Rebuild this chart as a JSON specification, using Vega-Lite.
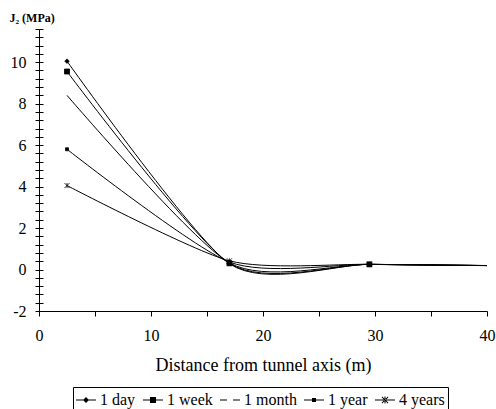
{
  "$schema": "https://vega.github.io/schema/vega-lite/v6.json",
  "width": 448,
  "height": 282,
  "autosize": {"type": "none"},
  "padding": {"left": 39, "top": 29, "right": 9, "bottom": 98},
  "background": "white",
  "config": {
    "font": "Liberation Serif",
    "view": {"stroke": null},
    "axis": {
      "domainColor": "black",
      "tickColor": "black",
      "labelColor": "black",
      "titleColor": "black",
      "grid": false,
      "labelFont": "Liberation Serif",
      "titleFont": "Liberation Serif"
    }
  },
  "data": {
    "values": [
      {"series": "1 day", "x": 2.5, "y": 10.05},
      {"series": "1 day", "x": 17, "y": 0.28},
      {"series": "1 day", "x": 29.5, "y": 0.25},
      {"series": "1 day", "x": 42, "y": 0.18},
      {"series": "1 week", "x": 2.5, "y": 9.55},
      {"series": "1 week", "x": 17, "y": 0.3},
      {"series": "1 week", "x": 29.5, "y": 0.25},
      {"series": "1 week", "x": 42, "y": 0.18},
      {"series": "1 month", "x": 2.5, "y": 8.4},
      {"series": "1 month", "x": 17, "y": 0.32},
      {"series": "1 month", "x": 29.5, "y": 0.25},
      {"series": "1 month", "x": 42, "y": 0.18},
      {"series": "1 year", "x": 2.5, "y": 5.8},
      {"series": "1 year", "x": 17, "y": 0.36},
      {"series": "1 year", "x": 29.5, "y": 0.25},
      {"series": "1 year", "x": 42, "y": 0.18},
      {"series": "4 years", "x": 2.5, "y": 4.05},
      {"series": "4 years", "x": 17, "y": 0.42},
      {"series": "4 years", "x": 29.5, "y": 0.25},
      {"series": "4 years", "x": 42, "y": 0.18}
    ]
  },
  "encoding": {
    "x": {
      "field": "x",
      "type": "quantitative",
      "scale": {"domain": [0, 40], "nice": false, "zero": false},
      "axis": {
        "title": "Distance from tunnel axis (m)",
        "values": [0, 5, 10, 15, 20, 25, 30, 35, 40],
        "labelExpr": "datum.value % 10 == 0 ? datum.label : ''",
        "tickSize": 5,
        "labelPadding": 11,
        "labelFontSize": 16,
        "labelFontWeight": "normal",
        "titleFontSize": 18,
        "titleFontWeight": "normal",
        "titlePadding": 13,
        "labelFlush": false,
        "labelOverlap": false
      }
    }
  },
  "layer": [
    {
      "mark": {"type": "line", "interpolate": "cardinal", "tension": 0.3, "color": "black", "strokeWidth": 1, "clip": true},
      "encoding": {
        "y": {
          "field": "y",
          "type": "quantitative",
          "scale": {"domain": [-2, 11.6], "nice": false, "zero": false},
          "axis": {
            "orient": "left",
            "title": "J₂ (MPa)",
            "titleAngle": 0,
            "titleAlign": "left",
            "titleBaseline": "alphabetic",
            "titleX": -30,
            "titleY": -8,
            "titleFontSize": 12,
            "titleFontWeight": "bold",
            "values": [-2, -1.6, -1.2, -0.8, -0.4, 0, 0.4, 0.8, 1.2, 1.6, 2, 2.4, 2.8, 3.2, 3.6, 4, 4.4, 4.8, 5.2, 5.6, 6, 6.4, 6.8, 7.2, 7.6, 8, 8.4, 8.8, 9.2, 9.6, 10, 10.4, 10.8, 11.2, 11.6],
            "labelExpr": "round(datum.value * 10) % 20 == 0 ? '' + datum.value : ''",
            "tickSize": 4,
            "labelPadding": 9,
            "labelFontSize": 16,
            "labelOverlap": false,
            "labelFlush": false
          }
        },
        "detail": {"field": "series"}
      }
    },
    {
      "mark": {"type": "point", "filled": true, "size": 100, "fill": "black", "stroke": "black", "strokeWidth": 0.8, "opacity": 1, "clip": true},
      "encoding": {
        "y": {
          "field": "y",
          "type": "quantitative",
          "axis": {
            "orient": "left",
            "title": null,
            "labels": false,
            "domain": false,
            "values": [-2, -1.6, -1.2, -0.8, -0.4, 0, 0.4, 0.8, 1.2, 1.6, 2, 2.4, 2.8, 3.2, 3.6, 4, 4.4, 4.8, 5.2, 5.6, 6, 6.4, 6.8, 7.2, 7.6, 8, 8.4, 8.8, 9.2, 9.6, 10, 10.4, 10.8, 11.2, 11.6],
            "tickSize": -4
          }
        },
        "shape": {
          "field": "series",
          "scale": {
            "domain": ["1 day", "1 week", "1 month", "1 year", "4 years"],
            "range": [
              "M0,-0.45L0.45,0L0,0.45L-0.45,0Z",
              "M-0.5,-0.5H0.5V0.5H-0.5Z",
              "M0,0",
              "M-0.3,-0.3H0.3V0.3H-0.3Z",
              "M-0.5,-0.5L0.5,0.5M-0.5,0.5L0.5,-0.5M0,-0.5V0.5"
            ]
          },
          "legend": null
        }
      }
    },
    {
      "mark": {"type": "point", "filled": true, "size": 400, "color": "black", "opacity": 0, "clip": true},
      "encoding": {
        "y": {"field": "y", "type": "quantitative", "axis": null},
        "shape": {
          "field": "series",
          "scale": {
            "domain": ["1 day", "1 week", "1 month", "1 year", "4 years"],
            "range": [
              "M-1,-0.05H1V0.05H-1ZM0,-0.3L0.3,0L0,0.3L-0.3,0Z",
              "M-1,-0.05H1V0.05H-1ZM-0.3,-0.3H0.3V0.3H-0.3Z",
              "M-1,-0.05H-0.3V0.05H-1ZM0.3,-0.05H1V0.05H0.3Z",
              "M-1,-0.05H1V0.05H-1ZM-0.2,-0.2H0.2V0.2H-0.2Z",
              "M-1,-0.05H1V0.05H-1ZM-0.34,-0.28L-0.28,-0.34L0.34,0.28L0.28,0.34ZM-0.34,0.28L-0.28,0.34L0.34,-0.28L0.28,-0.34ZM-0.05,-0.34H0.05V0.34H-0.05Z"
            ]
          },
          "legend": {
            "title": null,
            "orient": "none",
            "legendX": 34,
            "legendY": 358,
            "direction": "horizontal",
            "columns": 5,
            "symbolSize": 400,
            "symbolStrokeWidth": 0,
            "symbolFillColor": "black",
            "symbolOpacity": 1,
            "labelFont": "Liberation Serif",
            "labelFontSize": 16,
            "labelColor": "black",
            "labelOffset": 4,
            "columnPadding": 7,
            "padding": 3,
            "strokeColor": "black",
            "fillColor": "white",
            "encode": {
              "symbols": {
                "update": {
                  "fill": {"value": "black"},
                  "fillOpacity": {"value": 1},
                  "opacity": {"value": 1}
                }
              }
            }
          }
        }
      }
    }
  ],
  "resolve": {"scale": {"shape": "independent"}, "axis": {"y": "independent"}}
}
